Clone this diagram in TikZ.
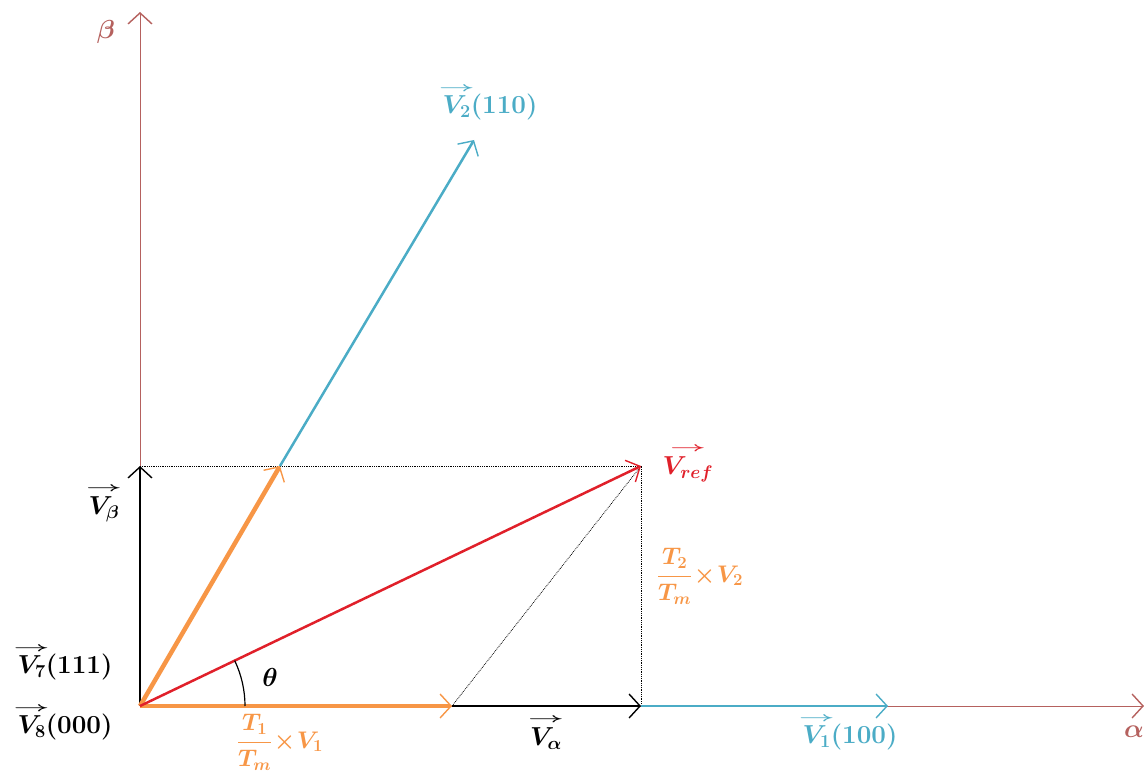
\RequirePackage{fix-cm}
\documentclass[tikz,border=0pt]{standalone}
\usepackage{amsmath}
\usetikzlibrary{arrows.meta}
\definecolor{axc}{HTML}{B5615E}
\definecolor{cyn}{HTML}{4BACC6}
\definecolor{org}{HTML}{F79646}
\definecolor{rd}{HTML}{E0202A}
\newcommand{\ovv}[1]{\overset{\makebox[0pt]{\scalebox{2.4}[1]{$\scriptscriptstyle\rightarrow$}}}{#1}}
\begin{document}
\begin{tikzpicture}[x=1pt,y=-1pt,
  barb/.style={-{Straight Barb[length=11pt,width=24pt,line width=1.4pt]}},
  lbl/.style={font=\fontsize{26}{30}\selectfont\boldmath, inner sep=0pt},
  frac/.style={font=\fontsize{24}{28}\selectfont\boldmath, inner sep=0pt},
  dots/.style={densely dotted, line width=0.8pt}]
\useasboundingbox (0,0) rectangle (1144,773);
\coordinate (O) at (140,706);
\coordinate (Btop) at (140,12);
\coordinate (Aend) at (1144,706);
\coordinate (B) at (140,466);
\coordinate (P2) at (280,466);
\coordinate (V2end) at (474,140);
\coordinate (P1) at (452,706);
\coordinate (R) at (641,466);
\coordinate (A) at (641,706);
\coordinate (V1end) at (888,706);
% axes
\draw[axc, line width=1pt, barb] (O) -- (Btop);
\draw[axc, line width=1pt, barb] (O) -- (Aend);
% dotted
\draw[dots] (B) -- (R) -- (A);
\draw[dots] (P1) -- (R);
% black components
\draw[black, line width=1.3pt, barb] (O) -- (B);
\draw[black, line width=1.3pt, barb] (P1) -- (A);
% cyan
\draw[cyn, line width=2.5pt, barb] (P2) -- (V2end);
\draw[cyn, line width=2.5pt, barb] (A) -- (V1end);
% orange
\draw[org, line width=4.5pt, barb] (O) -- (P2);
\draw[org, line width=4.5pt, barb] (O) -- (P1);
% red
\draw[rd, line width=2.5pt, barb] (O) -- (R);
% angle
\draw[black, line width=1.2pt] (245,706) arc[start angle=0, end angle=-25.6, radius=105];
% labels
\node[lbl, text=axc] (lb) at (106,32) {$\beta$};
\node[lbl, text=axc] (la) at (1134,732) {$\alpha$};
\node[lbl, text=cyn] (l2) at (490,102) {$\ovv{V_2}(110)$};
\node[lbl, text=rd] (lr) at (688,463) {$\ovv{V_{ref}}$};
\node[frac, text=org] (lt2) at (700,576) {$\dfrac{T_2}{T_m}\!\times\! V_2$};
\node[frac, text=org] (lt1) at (280,742) {$\dfrac{T_1}{T_m}\!\times\! V_1$};
\node[lbl] (lvb) at (104,503) {$\ovv{V_\beta}$};
\node[lbl] (l7) at (65,662) {$\ovv{V_7}(111)$};
\node[lbl] (l8) at (65,722) {$\ovv{V_8}(000)$};
\node[lbl] (lth) at (270,677) {$\theta$};
\node[lbl] (lva) at (546,732) {$\ovv{V_\alpha}$};
\node[lbl, text=cyn] (l1) at (850,732) {$\ovv{V_1}(100)$};
\end{tikzpicture}
\end{document}
